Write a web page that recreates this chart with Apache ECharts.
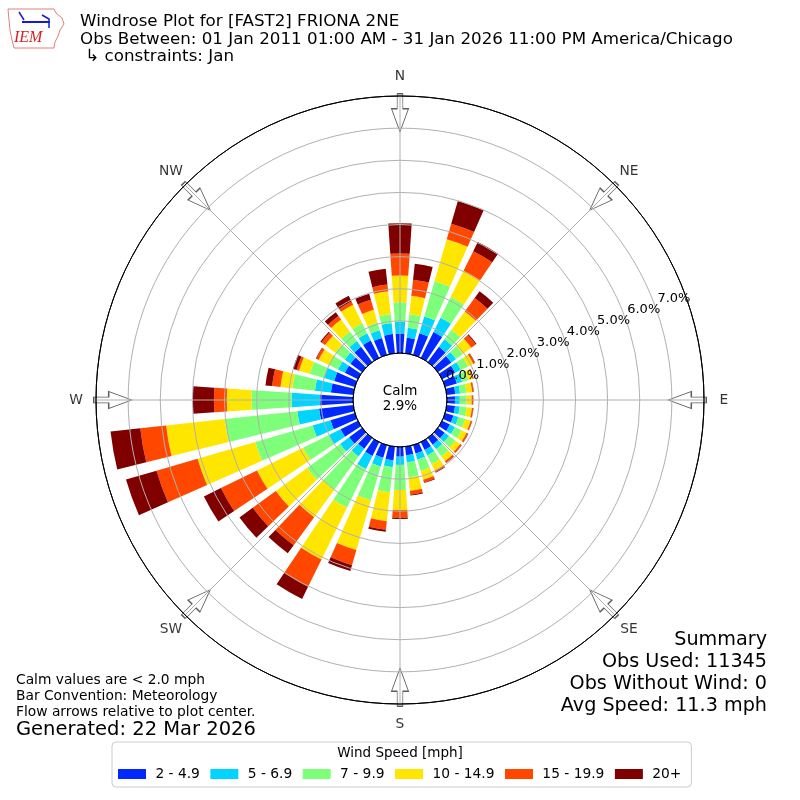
<!DOCTYPE html>
<html>
<head>
<meta charset="utf-8">
<script src="https://cdn.jsdelivr.net/npm/echarts@6/dist/echarts.min.js"></script>
<style>
html,body{margin:0;padding:0;background:#ffffff;}
#chart{width:800px;height:800px;}
</style>
</head>
<body>
<div id="chart"></div>
<script>
// ---- data ----
const directions = ['0','10','20','30','40','50','60','70','80','90','100','110','120','130','140','150','160','170',
                    '180','190','200','210','220','230','240','250','260','270','280','290','300','310','320','330','340','350'];
const speedBins = ['2 - 4.9', '5 - 6.9', '7 - 9.9', '10 - 14.9', '15 - 19.9', '20+'];
// percent of observations per direction bin
const speed2to5 = [0.61,0.49,0.70,0.90,0.59,0.52,0.45,0.38,0.27,0.25,0.26,0.27,0.27,0.26,0.26,0.27,0.27,0.27,
                   0.30,0.43,0.41,0.48,0.42,0.50,0.60,0.79,1.07,1.03,0.70,0.67,0.45,0.45,0.59,0.60,0.55,0.60];
const speed5to7 = [0.37,0.31,0.54,0.49,0.29,0.18,0.20,0.17,0.15,0.15,0.15,0.16,0.17,0.17,0.18,0.19,0.20,0.22,
                   0.26,0.21,0.28,0.45,0.30,0.35,0.40,0.58,0.68,0.88,0.50,0.33,0.24,0.22,0.22,0.25,0.25,0.35];
const speed7to10 = [0.60,0.42,1.15,0.72,0.37,0.26,0.25,0.20,0.20,0.21,0.21,0.22,0.23,0.24,0.27,0.30,0.37,0.47,
                    0.78,0.79,1.10,1.34,1.28,1.27,0.90,1.86,2.27,1.25,0.71,0.46,0.31,0.36,0.37,0.35,0.25,0.27];
const speed10to15 = [0.83,0.58,1.36,0.91,0.70,0.33,0.18,0.14,0.18,0.16,0.17,0.18,0.18,0.19,0.19,0.22,0.28,0.42,
                     0.62,0.90,1.61,1.80,1.06,1.21,1.60,1.87,1.84,0.77,0.37,0.35,0.36,0.40,0.46,0.64,0.41,0.72];
const speed15to20 = [0.69,0.50,0.50,0.68,0.52,0.17,0.06,0.03,0.04,0.04,0.04,0.04,0.05,0.05,0.06,0.06,0.09,0.12,
                     0.24,0.27,0.49,0.95,1.08,0.89,1.25,1.33,0.81,0.40,0.26,0.08,0.08,0.14,0.14,0.11,0.33,0.21];
const speed20plus = [0.94,0.50,0.74,0.32,0.26,0.03,0.01,0.01,0.01,0.01,0.01,0.01,0.01,0.01,0.01,0.02,0.02,0.03,
                     0.04,0.06,0.19,0.42,0.31,0.51,0.59,0.99,0.93,0.66,0.21,0.12,0.02,0.04,0.14,0.20,0.19,0.50];
const compassLabels = ['N','NE','E','SE','S','SW','W','NW'];
const compassAngles = [0,45,90,135,180,225,270,315];
const radialTickLabels = ['0.0%','1.0%','2.0%','3.0%','4.0%','5.0%','6.0%','7.0%'];
const titleLines = ['Windrose Plot for [FAST2] FRIONA 2NE',
                    'Obs Between: 01 Jan 2011 01:00 AM - 31 Jan 2026 11:00 PM America/Chicago',
                    ' \u21b3 constraints: Jan'];
const summaryLines = ['Summary', 'Obs Used: 11345', 'Obs Without Wind: 0', 'Avg Speed: 11.3 mph'];
const noteLines = ['Calm values are < 2.0 mph', 'Bar Convention: Meteorology', 'Flow arrows relative to plot center.'];
const calmText = 'Calm\n2.9%';
const generatedText = 'Generated: 22 Mar 2026';

// ---- chart ----
const seriesValues = [speed2to5, speed5to7, speed7to10, speed10to15, speed15to20, speed20plus];
const colors = ['#0028ff', '#00d4ff', '#7dff7a', '#ffe600', '#ff4700', '#800000'];
const center = ['50%', '50%'];
const radius = [47, 304];
const FONT = 'DejaVu Sans';

const barSeries = seriesValues.map((vals, i) => ({
  type: 'bar',
  name: speedBins[i],
  coordinateSystem: 'polar',
  polarIndex: 0,
  stack: 'speed',
  data: vals,
  barCategoryGap: '24%',
  itemStyle: { color: colors[i] },
  silent: true,
  z: 2
}));

const ringColors = ['#000000'].concat(Array(7).fill('#b0b0b0')).concat(['#000000']);

const hiddenAngle = (idx, start) => ({
  polarIndex: idx, type: 'value', min: 0, max: 360, startAngle: start, clockwise: true,
  axisLine: { show: false }, axisTick: { show: false }, axisLabel: { show: false }, splitLine: { show: false }
});
const radialLabelAxis = (idx, keep) => ({
  polarIndex: idx, type: 'value', min: 0, max: 8, interval: 1, z: 6,
  axisLine: { show: false }, axisTick: { show: false }, splitLine: { show: false },
  axisLabel: { show: true, showMinLabel: true, showMaxLabel: false,
    margin: 9, fontSize: 13, color: '#000', fontFamily: FONT,
    align: 'left', verticalAlign: 'middle', padding: [0, 0, 0, 5],
    formatter: v => (keep(v) && v < radialTickLabels.length ? radialTickLabels[v] : '') }
});

const option = {
  animation: false,
  backgroundColor: '#ffffff',
  textStyle: { fontFamily: FONT },
  color: colors,
  title: [
    { text: titleLines.join('\n'), left: 80, top: 13, padding: 0,
      textStyle: { fontSize: 16.7, fontWeight: 'normal', color: '#000', lineHeight: 17.5, fontFamily: FONT } },
    { text: calmText, left: 'center', top: 384, padding: 0,
      textStyle: { fontSize: 13.5, fontWeight: 'normal', color: '#000', lineHeight: 15, fontFamily: FONT } },
    { text: summaryLines.join('\n'), left: 767, top: 629, padding: 0, textAlign: 'right',
      textStyle: { fontSize: 19.2, fontWeight: 'normal', color: '#000', lineHeight: 22, fontFamily: FONT } },
    { text: noteLines.join('\n'), left: 16, top: 672, padding: 0,
      textStyle: { fontSize: 13.8, fontWeight: 'normal', color: '#000', lineHeight: 16, fontFamily: FONT } },
    { text: generatedText, left: 16, top: 719, padding: 0,
      textStyle: { fontSize: 19.5, fontWeight: 'normal', color: '#000', lineHeight: 22, fontFamily: FONT } },
    { text: 'Wind Speed [mph]', left: 'center', top: 745, padding: 0, z: 10,
      textStyle: { fontSize: 13.5, fontWeight: 'normal', color: '#000', lineHeight: 16, fontFamily: FONT } }
  ],
  legend: {
    data: speedBins,
    left: 112,
    top: 742,
    width: 576,
    padding: [25, 10, 6, 6],
    itemWidth: 28,
    itemHeight: 10,
    itemGap: 10.5,
    icon: 'rect',
    selectedMode: false,
    backgroundColor: '#ffffff',
    borderColor: '#cccccc',
    borderWidth: 1,
    borderRadius: 4,
    formatter: name => ' ' + name,
    textStyle: { fontSize: 13.8, color: '#000', fontFamily: FONT }
  },
  polar: [
    { center: center, radius: radius },
    { center: center, radius: radius },
    { center: center, radius: radius },
    { center: center, radius: radius }
  ],
  angleAxis: [
    { polarIndex: 0, type: 'category', data: directions, startAngle: 95, clockwise: true,
      axisLine: { show: false }, axisTick: { show: false }, axisLabel: { show: false }, splitLine: { show: false } },
    { polarIndex: 1, type: 'value', min: 0, max: 360, interval: 45, startAngle: 90, clockwise: true, z: 5,
      axisLine: { show: true, lineStyle: { color: '#000000', width: 1 } },
      axisTick: { show: false },
      axisLabel: { show: false },
      splitLine: { show: true, lineStyle: { color: '#b0b0b0', width: 1 } } },
    hiddenAngle(2, 20),
    hiddenAngle(3, 20)
  ],
  radiusAxis: [
    { polarIndex: 0, type: 'value', min: 0, max: 8,
      axisLine: { show: false }, axisTick: { show: false }, axisLabel: { show: false }, splitLine: { show: false } },
    { polarIndex: 1, type: 'value', min: 0, max: 8, interval: 1, z: 5,
      axisLine: { show: false }, axisTick: { show: false }, axisLabel: { show: false },
      splitLine: { show: true, lineStyle: { color: ringColors, width: 1 } } },
    radialLabelAxis(2, v => v >= 1),
    radialLabelAxis(3, v => v === 0)
  ],
  graphic: [
    { type: 'polygon', silent: true, z: 100,
      shape: { points: [[8,9],[54,9],[56,13],[62,18],[64,24],[60,30],[58,36],[55,42],[54,48],[14,48],[12,40],[10,30],[9,20]] },
      style: { fill: 'none', stroke: '#e08080', lineWidth: 1 } },
    { type: 'polyline', silent: true, z: 100,
      shape: { points: [[22,22],[50,22]] }, style: { stroke: '#1a1ad0', lineWidth: 2 } },
    { type: 'polyline', silent: true, z: 100,
      shape: { points: [[19,12],[24,20]] }, style: { stroke: '#1a1ad0', lineWidth: 1.5 } },
    { type: 'polyline', silent: true, z: 100,
      shape: { points: [[42,15],[49,19],[49,28]] }, style: { stroke: '#1a1ad0', lineWidth: 1.5 } },
    { type: 'text', silent: true, z: 100, left: 14, top: 30,
      style: { text: 'IEM', fill: '#d42020', font: 'italic 16px "Liberation Serif"' } }
  ],
  series: barSeries.concat([
    // flow arrows at the compass points
    { type: 'scatter', coordinateSystem: 'polar', polarIndex: 1, silent: true, z: 3, clip: false,
      data: compassAngles.map(a => [7.48, a]),
      symbol: 'path://M5.7 0L11.3 0L11.3 15L17 15L8.5 38L0 15L5.7 15Z',
      symbolSize: [17, 38],
      symbolRotate: val => -val[1],
      itemStyle: { color: '#ffffff', borderColor: '#333333', borderWidth: 1 } },
    // compass direction labels, outside the outer ring
    { type: 'scatter', coordinateSystem: 'polar', polarIndex: 1, silent: true, z: 6, clip: false,
      data: compassAngles.map(a => [8.62, a]),
      symbol: 'circle', symbolSize: 1,
      itemStyle: { color: 'rgba(0,0,0,0)' },
      label: { show: true, position: 'inside', color: '#000', fontSize: 13.8, fontFamily: FONT,
        formatter: p => compassLabels[p.dataIndex] },
      labelLayout: { hideOverlap: false } }
  ])
};

const chart = echarts.init(document.getElementById('chart'), null, { renderer: 'canvas' });
chart.setOption(option);
</script>
</body>
</html>
